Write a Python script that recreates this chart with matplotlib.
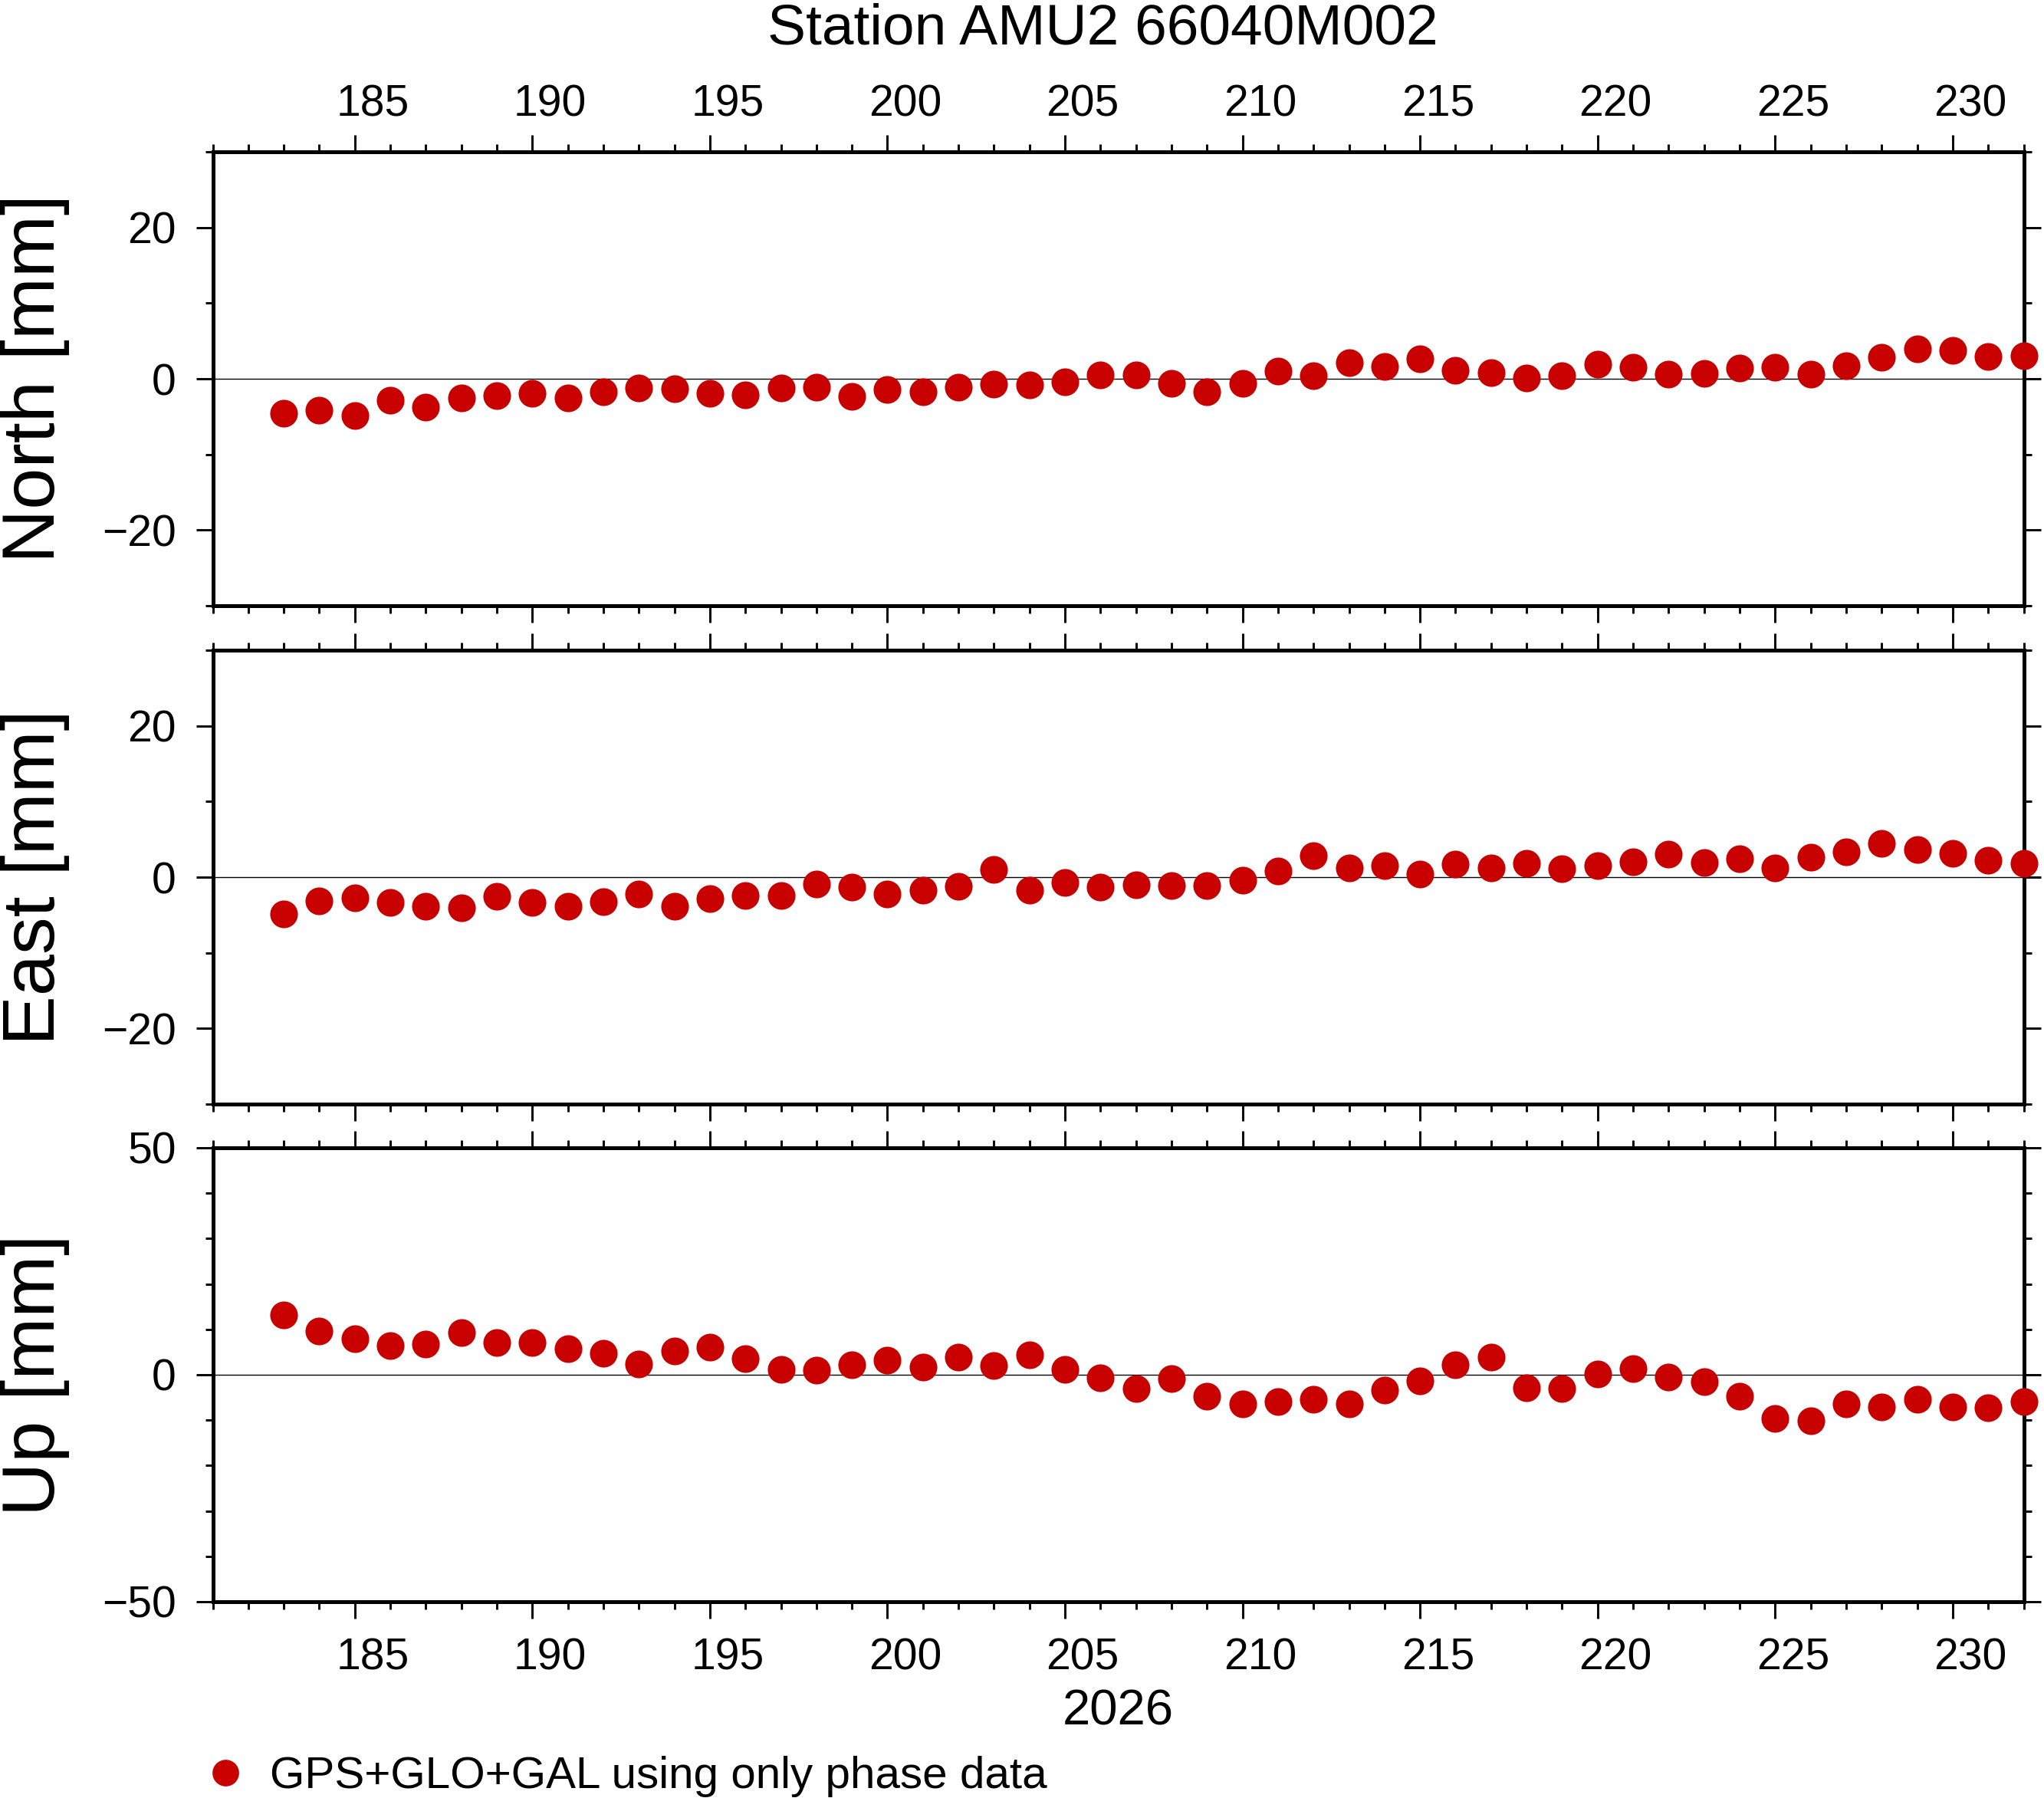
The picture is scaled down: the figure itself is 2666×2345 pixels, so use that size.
import matplotlib
matplotlib.use('Agg')
import matplotlib.pyplot as plt
from matplotlib.lines import Line2D
from matplotlib.ticker import MultipleLocator
import matplotlib.transforms as mtransforms

# ---- data ----
days = list(range(183, 233))
north = [-4.56, -4.16, -4.86, -2.84, -3.75, -2.53, -2.23, -1.93, -2.53, -1.72,
         -1.22, -1.32, -1.93, -2.13, -1.22, -1.11, -2.33, -1.42, -1.72, -1.11,
         -0.71, -0.81, -0.41, 0.51, 0.51, -0.61, -1.72, -0.61, 1.01, 0.41,
         2.13, 1.62, 2.64, 1.11, 0.81, 0.10, 0.41, 1.93, 1.52, 0.61,
         0.71, 1.42, 1.52, 0.61, 1.72, 2.84, 3.95, 3.75, 2.94, 3.04]
east = [-4.86, -3.14, -2.74, -3.34, -3.85, -4.05, -2.53, -3.34, -3.85, -3.24,
        -2.23, -3.85, -2.84, -2.43, -2.43, -0.91, -1.32, -2.23, -1.72, -1.22,
        1.01, -1.72, -0.71, -1.32, -1.01, -1.11, -1.11, -0.41, 0.81, 2.84,
        1.22, 1.52, 0.41, 1.72, 1.22, 1.82, 1.11, 1.52, 2.03, 3.04,
        1.93, 2.43, 1.22, 2.64, 3.34, 4.46, 3.65, 3.14, 2.23, 1.82]
up = [13.16, 9.66, 7.97, 6.44, 6.78, 9.27, 7.12, 7.12, 5.76, 4.75,
      2.37, 5.25, 6.10, 3.56, 1.19, 1.02, 2.20, 3.22, 1.69, 3.90,
      2.03, 4.41, 1.19, -0.68, -3.05, -0.85, -4.75, -6.44, -5.93, -5.42,
      -6.44, -3.39, -1.36, 2.20, 3.90, -2.88, -3.05, 0.17, 1.36, -0.51,
      -1.53, -4.75, -9.66, -10.17, -6.44, -7.12, -5.42, -7.12, -7.29, -5.93]
day_labels = [185, 190, 195, 200, 205, 210, 215, 220, 225, 230]
panel_names = ["North [mm]", "East [mm]", "Up [mm]"]
title = "Station AMU2 66040M002"
year_label = "2026"
legend_label = "GPS+GLO+GAL using only phase data"

# ---- style ----
W, H = 2666, 2345
plt.rcParams['font.family'] = ['Liberation Sans', 'DejaVu Sans']
RED = '#c80000'

fig = plt.figure(figsize=(W / 100, H / 100), dpi=100)

left = 277.5 / W
width = (2639.5 - 277.5) / W
panels_px = [(198, 790), (848, 1440), (1497, 2089)]
series = [north, east, up]
ylims = [(-30, 30), (-30, 30), (-50, 50)]
ymajor = [20, 20, 50]

axes = []
for i, ((top_px, bot_px), vals, yl, ym) in enumerate(zip(panels_px, series, ylims, ymajor)):
    ax = fig.add_axes([left, 1 - bot_px / H, width, (bot_px - top_px) / H])
    ax.set_xlim(181, 232)
    ax.set_ylim(*yl)
    ax.xaxis.set_major_locator(MultipleLocator(5))
    ax.xaxis.set_minor_locator(MultipleLocator(1))
    ax.yaxis.set_major_locator(MultipleLocator(ym))
    ax.yaxis.set_minor_locator(MultipleLocator(10))
    ax.tick_params(axis='both', which='both', direction='out', top=True, right=True,
                   width=2.1, labelbottom=False, labeltop=False, colors='black')
    ax.tick_params(axis='both', which='major', length=15.8)
    ax.tick_params(axis='both', which='minor', length=7.2)
    ax.tick_params(axis='y', labelsize=41, pad=18.5)
    for sp in ax.spines.values():
        sp.set_linewidth(3.6)
    ax.axhline(0, color='black', lw=1.0, zorder=1)
    ax.plot(days, vals, 'o', ms=26, color=RED, mec='none', clip_on=False, zorder=5)
    # y label
    cy = 1 - (top_px + bot_px) / 2 / H
    fig.text(46 / W, cy, panel_names[i], rotation=90, ha='center', va='center',
             fontsize=70)
    axes.append(ax)

# x tick labels (centred on the day interval)
ax_top = axes[0]
trans_top = mtransforms.offset_copy(
    mtransforms.blended_transform_factory(ax_top.transData, ax_top.transAxes),
    fig=fig, y=46, units='dots')
for d in day_labels:
    ax_top.text(d + 0.5, 1, str(d), transform=trans_top, ha='center', va='baseline',
                fontsize=41)
ax_bot = axes[2]
trans_bot = mtransforms.offset_copy(
    mtransforms.blended_transform_factory(ax_bot.transData, ax_bot.transAxes),
    fig=fig, y=-89, units='dots')
for d in day_labels:
    ax_bot.text(d + 0.5, 0, str(d), transform=trans_bot, ha='center', va='baseline',
                fontsize=41)

# title and year
fig.text(1438.5 / W, 1 - 57 / H, title, ha='center', va='baseline', fontsize=54)
fig.text(1458.5 / W, 1 - 2250 / H, year_label, ha='center', va='baseline', fontsize=47)

# legend
fig.add_artist(Line2D([294 / W], [1 - 2312 / H], marker='o', ms=25, color=RED,
                      mec='none', linestyle='none', transform=fig.transFigure))
fig.text(352 / W, 1 - 2331.7 / H, legend_label, ha='left', va='baseline', fontsize=42)

fig.savefig('out.png', dpi=100)
